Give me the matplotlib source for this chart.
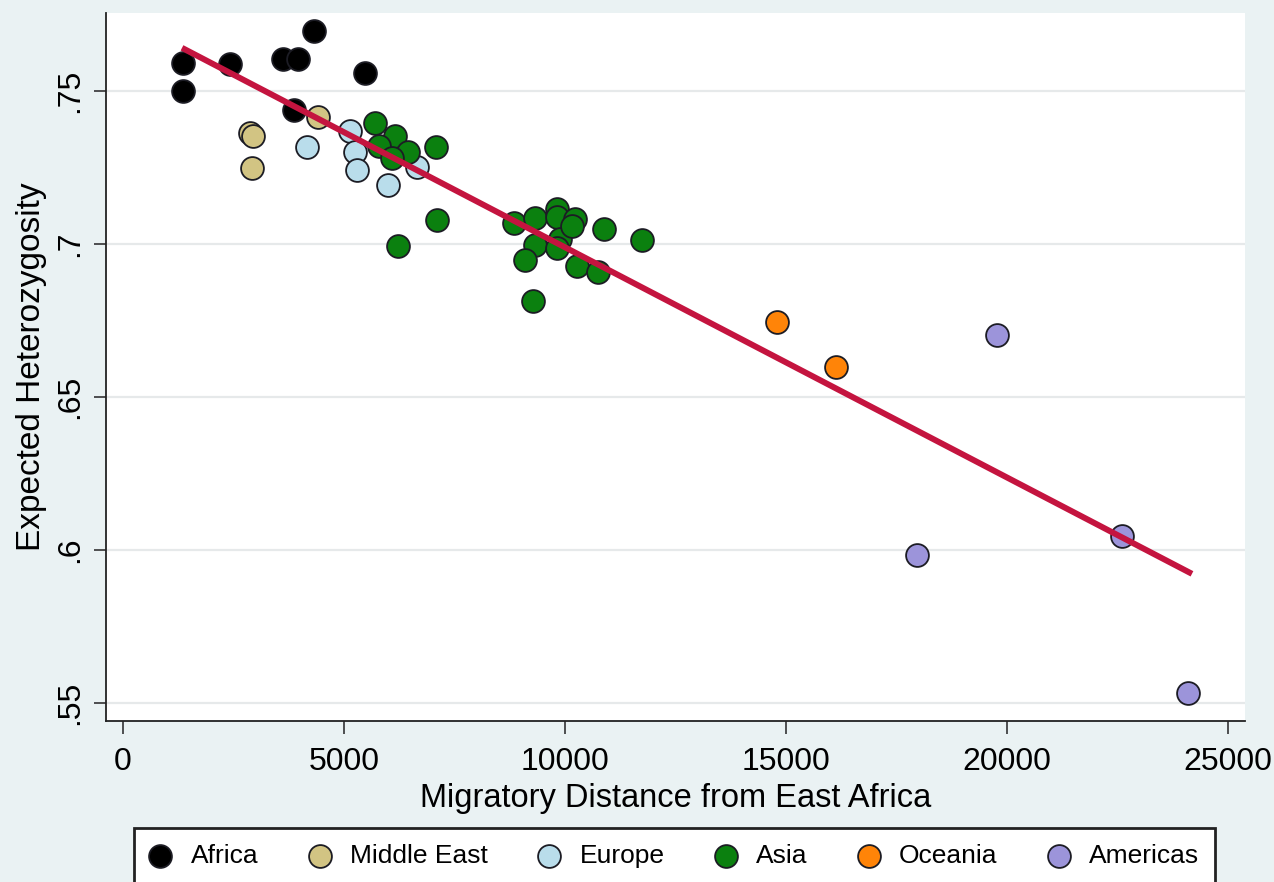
import matplotlib
matplotlib.use("Agg")
import matplotlib.pyplot as plt

plt.rcParams['font.family'] = ['Liberation Sans', 'DejaVu Sans']

# Data (distance in km, expected heterozygosity)
africa_x = [1357, 1357, 2421, 3620, 3959, 4321, 5475, 3869]
africa_y = [0.7592, 0.7500, 0.7588, 0.7605, 0.7605, 0.7696, 0.7559, 0.7438]

mideast_x = [4412, 2873, 2941, 2919]
mideast_y = [0.7415, 0.7363, 0.7353, 0.7248]

europe_x = [5136, 4163, 5249, 5294, 5995, 6652]
europe_y = [0.7369, 0.7317, 0.7301, 0.7242, 0.7193, 0.7252]

asia_x = [5701, 6154, 5792, 6448, 6086, 7081, 7104, 6222, 8846, 9321, 9819,
          9819, 10226, 10882, 11742, 9321, 9887, 9819, 9095, 10271, 10747,
          9276, 10158]
asia_y = [0.7395, 0.7353, 0.7320, 0.7301, 0.7281, 0.7317, 0.7078, 0.6993,
          0.7069, 0.7085, 0.7114, 0.7088, 0.7082, 0.7049, 0.7013, 0.6997,
          0.7016, 0.6987, 0.6948, 0.6928, 0.6908, 0.6814, 0.7059]

oceania_x = [14796, 16131]
oceania_y = [0.6745, 0.6598]

americas_x = [19774, 17964, 22602, 24095]
americas_y = [0.6703, 0.5984, 0.6046, 0.5533]

# fitted line end points
fit_x = [1335, 24186]
fit_y = [0.7641, 0.5922]

groups = [
    ("Africa", africa_x, africa_y, "#000000"),
    ("Middle East", mideast_x, mideast_y, "#D2C483"),
    ("Europe", europe_x, europe_y, "#B9DDEB"),
    ("Asia", asia_x, asia_y, "#0B800F"),
    ("Oceania", oceania_x, oceania_y, "#FF8408"),
    ("Americas", americas_x, americas_y, "#9C94DA"),
]

fig = plt.figure(figsize=(12.74, 8.82), dpi=100)
fig.patch.set_facecolor("#EAF2F3")
ax = fig.add_axes([0.0832, 0.1829, 0.894, 0.8024])
ax.set_facecolor("white")

for name, xs, ys, col in groups:
    ax.scatter(xs, ys, s=270, c=col, edgecolors="#1c1c24", linewidths=1.3,
               label=name, zorder=3)

ax.plot(fit_x, fit_y, color="#C4143F", lw=4.3, solid_capstyle="butt", zorder=4)

ax.set_xlim(-385, 25385)
ax.set_ylim(0.5442, 0.7755)
ax.set_xticks([0, 5000, 10000, 15000, 20000, 25000])
ax.set_yticks([0.55, 0.6, 0.65, 0.7, 0.75])
ax.set_yticklabels([".55", ".6", ".65", ".7", ".75"], rotation=90, va="center")
ax.tick_params(axis="both", labelsize=23, length=9, width=1.2, color="#333333")
ax.tick_params(axis="x", pad=10)
ax.tick_params(axis="y", pad=6)
ax.grid(axis="y", color="#E6E9EA", lw=1.6, zorder=0)
ax.set_axisbelow(True)

for side in ["top", "right"]:
    ax.spines[side].set_visible(False)
for side in ["left", "bottom"]:
    ax.spines[side].set_linewidth(1.3)
    ax.spines[side].set_color("#222222")

ax.set_xlabel("Migratory Distance from East Africa", fontsize=23.5, labelpad=4)
ax.set_ylabel("Expected Heterozygosity", fontsize=24, labelpad=6)

leg = fig.legend(loc="upper left", bbox_to_anchor=(134 / 1274, 1 - 828 / 882),
                 borderaxespad=0, ncol=6, fontsize=19, frameon=True,
                 fancybox=False, framealpha=1, handletextpad=0.75,
                 columnspacing=1.92, borderpad=0.6, markerscale=1.0,
                 handlelength=0.8)
leg.get_frame().set_edgecolor("#222222")
leg.get_frame().set_linewidth(2)

fig.savefig("out.png", dpi=100, facecolor=fig.get_facecolor())
